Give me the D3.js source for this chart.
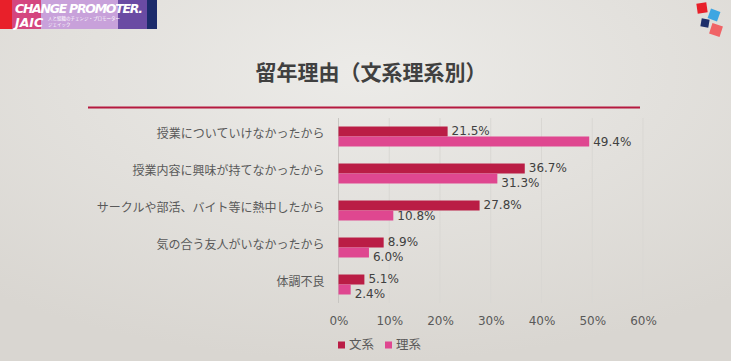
<!DOCTYPE html>
<html><head><meta charset="utf-8">
<script src="https://cdn.jsdelivr.net/npm/d3@7"></script>
<style>html,body{margin:0;padding:0;overflow:hidden;}svg{display:block;}</style>
</head><body>
<svg id="chart" width="731" height="361"></svg>
<script>
const categories = ["授業についていけなかったから","授業内容に興味が持てなかったから","サークルや部活、バイト等に熱中したから","気の合う友人がいなかったから","体調不良"];
const seriesNames = ["文系","理系"];
const bunkei = [21.5, 36.7, 27.8, 8.9, 5.1];
const rikei = [49.4, 31.3, 10.8, 6.0, 2.4];
const tickValues = [0,10,20,30,40,50,60];
const title = "留年理由（文系理系別）";
const colors = ["#BA1D45","#DF4790"];

const font = "'Noto Sans CJK JP','Noto Sans',sans-serif";
const numFont = "'DejaVu Sans',sans-serif";
const svg = d3.select("#chart");
const W = 731, H = 361;

const defs = svg.append("defs");
const bg = defs.append("radialGradient").attr("id","bg").attr("cx","50%").attr("cy","20%").attr("r","80%");
bg.append("stop").attr("offset","0%").attr("stop-color","#ecebe8");
bg.append("stop").attr("offset","100%").attr("stop-color","#d9d6d1");
svg.append("rect").attr("width",W).attr("height",H).attr("fill","url(#bg)");

// logo top-left
const logo = svg.append("g");
[[0,12,"#E8202A"],[12,41,"#D4457F"],[41,118,"#C8A1DA"],[118,147,"#6A4BA3"],[147,157,"#1C2B6B"]].forEach(d=>{
  logo.append("rect").attr("x",d[0]).attr("y",0).attr("width",d[1]-d[0]).attr("height",29).attr("fill",d[2]);
});
logo.append("text").attr("x",15).attr("y",13).attr("fill","#fff").attr("font-family",numFont)
  .attr("font-weight","bold").attr("font-style","italic").attr("font-size",12.5).attr("textLength",128).text("CHANGE PROMOTER.");
logo.append("text").attr("x",15).attr("y",27).attr("fill","#fff").attr("font-family",numFont)
  .attr("font-weight","bold").attr("font-style","italic").attr("font-size",12.5).text("JAIC");
logo.append("text").attr("x",48).attr("y",20).attr("fill","#fff").attr("font-family",font).attr("font-size",4.5).text("人と組織のチェンジ・プロモーター");
logo.append("text").attr("x",48).attr("y",26).attr("fill","#fff").attr("font-family",font).attr("font-size",4.5).text("ジェイック");

// top-right squares
const sq = svg.append("g");
[[702,8,10,-8,"#E8202A"],[714,15,10,20,"#3EA6E2"],[705,23,8,10,"#1E2F6A"],[716,30,11,18,"#F06366"]].forEach(d=>{
  sq.append("rect").attr("x",-d[2]/2).attr("y",-d[2]/2).attr("width",d[2]).attr("height",d[2]).attr("fill",d[4])
    .attr("transform",`translate(${d[0]},${d[1]}) rotate(${d[3]})`);
});

// title
svg.append("text").attr("x",371).attr("y",80).attr("text-anchor","middle").attr("font-family",font)
  .attr("font-weight","bold").attr("font-size",21).attr("fill","#404040").text(title);
svg.append("line").attr("x1",88).attr("x2",640).attr("y1",107.5).attr("y2",107.5).attr("stroke","#B5193F").attr("stroke-width",2);

// chart
const x = d3.scaleLinear().domain([0,60]).range([338.5,643]);
const y = d3.scaleBand().domain(categories).range([118,303]).paddingInner(0.46).paddingOuter(0.23);
const ys = d3.scaleBand().domain(seriesNames).range([0,y.bandwidth()]);

const g = svg.append("g");
g.selectAll("line.grid").data(tickValues).join("line").attr("class","grid")
  .attr("x1",d=>x(d)).attr("x2",d=>x(d)).attr("y1",118).attr("y2",303)
  .attr("stroke",d=>d===0?"#c8c6c2":"#d9d7d3").attr("stroke-width",1);

const xAxis = d3.axisBottom(x).tickValues(tickValues).tickFormat(d=>d+"%").tickSize(0);
const ax = g.append("g").attr("transform","translate(0,313)").call(xAxis);
ax.select(".domain").remove();
ax.selectAll("text").attr("font-family",numFont).attr("font-size",12).attr("fill","#595959").attr("dy","0.71em");

const yAxis = d3.axisLeft(y).tickSize(0).tickPadding(14);
const ay = g.append("g").attr("transform","translate(338.5,0)").call(yAxis);
ay.select(".domain").remove();
ay.selectAll("text").attr("font-family",font).attr("font-size",12).attr("fill","#595959").attr("dy","0.1em");

const labW = 38;
const rows = categories.map((c,i)=>({c, vals:[bunkei[i], rikei[i]]}));
const grp = g.selectAll("g.cat").data(rows).join("g").attr("class","cat").attr("transform",d=>`translate(0,${y(d.c)})`);
grp.selectAll("rect").data(d=>d.vals.map((v,j)=>({v,s:seriesNames[j],j}))).join("rect")
  .attr("x",x(0)).attr("y",d=>ys(d.s)).attr("width",d=>x(d.v)-x(0)).attr("height",ys.bandwidth())
  .attr("fill",d=>colors[d.j]);
grp.selectAll("text").data(d=>d.vals.map((v,j)=>({v,s:seriesNames[j],j,other:d.vals[0]}))).join("text")
  .attr("x",d=>x(d.v)+4)
  .attr("y",d=>{
    const c0 = ys(seriesNames[0])+ys.bandwidth()/2 - 1;
    if(d.j===0) return c0;
    const overlap = Math.abs(x(d.v)-x(d.other)) < labW;
    return overlap ? Math.max(c0+15, ys(d.s)+ys.bandwidth()/2+1.5) : ys(d.s)+ys.bandwidth()/2+0.5;
  })
  .attr("dy","0.35em").attr("font-family",numFont).attr("font-size",12).attr("fill","#404040")
  .text(d=>d.v.toFixed(1)+"%");

// legend
const lg = svg.append("g").attr("transform","translate(338,345)");
seriesNames.forEach((s,i)=>{
  const gx = i*47;
  lg.append("rect").attr("x",gx).attr("y",-3.5).attr("width",7).attr("height",7).attr("fill",colors[i]);
  lg.append("text").attr("x",gx+11).attr("y",0).attr("dy","0.35em").attr("font-family",font).attr("font-size",12.5).attr("fill","#595959").text(s);
});
</script>
</body></html>
